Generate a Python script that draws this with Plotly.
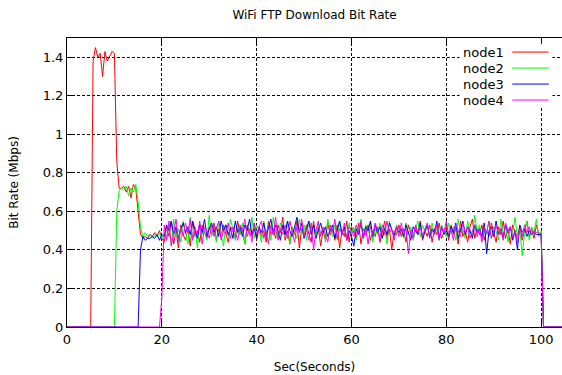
import plotly.graph_objects as go

# time grid (seconds), one sample every 0.5 s
t = [i * 0.5 for i in range(210)]

node1 = [
    0, 0, 0, 0, 0, 0, 0, 0, 0, 0, 0,
    1.38, 1.45, 1.40, 1.42, 1.30, 1.43, 1.38, 1.41, 1.43, 1.42,
    0.86, 0.72, 0.72, 0.73, 0.70, 0.73, 0.67, 0.74, 0.72, 0.60,
    0.48, 0.46, 0.47, 0.46, 0.48, 0.47, 0.49, 0.47, 0.50, 0.46,
    0.44, 0.52, 0.47, 0.55, 0.43, 0.50, 0.41, 0.53, 0.48, 0.45,
    0.51, 0.42, 0.55, 0.47, 0.50, 0.44, 0.53, 0.49, 0.46, 0.52,
    0.48, 0.54, 0.45, 0.51, 0.47, 0.53, 0.49, 0.44, 0.52, 0.50,
    0.46, 0.55, 0.48, 0.51, 0.43, 0.53, 0.49, 0.47, 0.54, 0.45,
    0.52, 0.47, 0.50, 0.44, 0.55, 0.48, 0.51, 0.46, 0.53, 0.49,
    0.57, 0.45, 0.50, 0.43, 0.52, 0.48, 0.55, 0.41, 0.51, 0.47,
    0.53, 0.49, 0.44, 0.55, 0.47, 0.52, 0.42, 0.50, 0.46, 0.54,
    0.48, 0.51, 0.45, 0.53, 0.41, 0.50, 0.47, 0.55, 0.44, 0.52,
    0.49, 0.46, 0.54, 0.43, 0.51, 0.48, 0.53, 0.45, 0.50, 0.47,
    0.52, 0.44, 0.49, 0.55, 0.46, 0.51, 0.40, 0.50, 0.48, 0.53,
    0.47, 0.51, 0.44, 0.53, 0.49, 0.46, 0.52, 0.48, 0.55, 0.45,
    0.50, 0.47, 0.53, 0.44, 0.51, 0.48, 0.54, 0.46, 0.49, 0.52,
    0.45, 0.53, 0.48, 0.51, 0.43, 0.55, 0.47, 0.50, 0.44, 0.52,
    0.56, 0.46, 0.51, 0.48, 0.53, 0.45, 0.50, 0.47, 0.54, 0.49,
    0.44, 0.52, 0.48, 0.55, 0.46, 0.51, 0.43, 0.53, 0.49, 0.47,
    0.52, 0.45, 0.50, 0.55, 0.47, 0.51, 0.46, 0.53, 0.48, 0.49,
    0, 0, 0, 0, 0, 0, 0, 0, 0,
]

node2 = [
    0, 0, 0, 0, 0, 0, 0, 0, 0, 0,
    0, 0, 0, 0, 0, 0, 0, 0, 0, 0, 0,
    0.60, 0.71, 0.72, 0.71, 0.73, 0.68, 0.72, 0.70, 0.74, 0.65,
    0.52, 0.47, 0.49, 0.47, 0.48, 0.46, 0.48, 0.47, 0.49, 0.46,
    0.48, 0.45, 0.53, 0.42, 0.56, 0.47, 0.51, 0.44, 0.55, 0.49,
    0.43, 0.57, 0.46, 0.52, 0.41, 0.54, 0.48, 0.50, 0.45, 0.58,
    0.47, 0.51, 0.44, 0.55, 0.49, 0.42, 0.53, 0.47, 0.56, 0.50,
    0.45, 0.52, 0.48, 0.54, 0.43, 0.51, 0.47, 0.57, 0.46, 0.53,
    0.50, 0.44, 0.55, 0.48, 0.52, 0.45, 0.57, 0.49, 0.46, 0.54,
    0.51, 0.47, 0.55, 0.43, 0.52, 0.49, 0.46, 0.56, 0.48, 0.53,
    0.45, 0.55, 0.49, 0.52, 0.46, 0.54, 0.48, 0.51, 0.44, 0.56,
    0.50, 0.47, 0.53, 0.45, 0.55, 0.49, 0.52, 0.46, 0.54, 0.48,
    0.52, 0.45, 0.50, 0.56, 0.47, 0.53, 0.49, 0.55, 0.44, 0.51,
    0.48, 0.54, 0.46, 0.52, 0.43, 0.55, 0.50, 0.47, 0.53, 0.49,
    0.51, 0.46, 0.54, 0.48, 0.52, 0.45, 0.50, 0.55, 0.47, 0.53,
    0.49, 0.52, 0.46, 0.54, 0.48, 0.51, 0.45, 0.53, 0.50, 0.47,
    0.54, 0.48, 0.52, 0.45, 0.56, 0.49, 0.51, 0.46, 0.55, 0.50,
    0.47, 0.58, 0.49, 0.53, 0.45, 0.51, 0.48, 0.55, 0.46, 0.52,
    0.50, 0.45, 0.56, 0.48, 0.53, 0.44, 0.52, 0.49, 0.57, 0.46,
    0.51, 0.37, 0.48, 0.55, 0.45, 0.52, 0.49, 0.56, 0.47, 0.50,
    0, 0, 0, 0, 0, 0, 0, 0, 0,
]

node3 = [
    0, 0, 0, 0, 0, 0, 0, 0, 0, 0,
    0, 0, 0, 0, 0, 0, 0, 0, 0, 0,
    0, 0, 0, 0, 0, 0, 0, 0, 0, 0, 0,
    0.40, 0.47, 0.45, 0.46, 0.46, 0.47, 0.46, 0.48, 0.45, 0.48,
    0.47, 0.53, 0.50, 0.55, 0.48, 0.52, 0.46, 0.51, 0.54, 0.49,
    0.52, 0.48, 0.55, 0.50, 0.46, 0.53, 0.49, 0.56, 0.47, 0.51,
    0.54, 0.49, 0.52, 0.47, 0.55, 0.50, 0.53, 0.48, 0.51, 0.46,
    0.55, 0.49, 0.52, 0.47, 0.53, 0.50, 0.56, 0.48, 0.51, 0.46,
    0.52, 0.49, 0.54, 0.47, 0.51, 0.56, 0.48, 0.53, 0.50, 0.45,
    0.53, 0.48, 0.55, 0.50, 0.47, 0.52, 0.57, 0.49, 0.54, 0.46,
    0.51, 0.55, 0.48, 0.53, 0.46, 0.50, 0.54, 0.49, 0.52, 0.47,
    0.50, 0.53, 0.46, 0.51, 0.55, 0.48, 0.52, 0.45, 0.50, 0.47,
    0.42, 0.51, 0.48, 0.54, 0.46, 0.52, 0.50, 0.55, 0.47, 0.53,
    0.49, 0.52, 0.46, 0.51, 0.48, 0.54, 0.50, 0.47, 0.52, 0.49,
    0.51, 0.47, 0.53, 0.49, 0.45, 0.52, 0.50, 0.48, 0.54, 0.46,
    0.50, 0.53, 0.47, 0.51, 0.49, 0.55, 0.46, 0.52, 0.48, 0.50,
    0.47, 0.52, 0.49, 0.54, 0.46, 0.51, 0.55, 0.48, 0.52, 0.50,
    0.46, 0.53, 0.49, 0.51, 0.47, 0.54, 0.38, 0.50, 0.52, 0.47,
    0.55, 0.48, 0.51, 0.46, 0.53, 0.49, 0.52, 0.45, 0.50, 0.40,
    0.53, 0.49, 0.51, 0.47, 0.50, 0.48, 0.49, 0.48, 0.48, 0.48,
    0, 0, 0, 0, 0, 0, 0, 0, 0,
]

node4 = [
    0, 0, 0, 0, 0, 0, 0, 0, 0, 0,
    0, 0, 0, 0, 0, 0, 0, 0, 0, 0,
    0, 0, 0, 0, 0, 0, 0, 0, 0, 0,
    0, 0, 0, 0, 0, 0, 0, 0, 0, 0,
    0.15,
    0.53, 0.45, 0.55, 0.42, 0.50, 0.56, 0.44, 0.52, 0.47, 0.54,
    0.49, 0.56, 0.45, 0.51, 0.48, 0.55, 0.43, 0.52, 0.50, 0.46,
    0.53, 0.47, 0.51, 0.55, 0.45, 0.50, 0.48, 0.54, 0.46, 0.52,
    0.49, 0.45, 0.53, 0.50, 0.56, 0.47, 0.51, 0.44, 0.54, 0.48,
    0.52, 0.55, 0.46, 0.50, 0.43, 0.53, 0.48, 0.57, 0.45, 0.51,
    0.48, 0.53, 0.46, 0.55, 0.50, 0.44, 0.52, 0.49, 0.56, 0.47,
    0.51, 0.45, 0.54, 0.40, 0.50, 0.55, 0.47, 0.52, 0.48, 0.44,
    0.53, 0.49, 0.56, 0.46, 0.51, 0.48, 0.54, 0.45, 0.52, 0.50,
    0.47, 0.53, 0.49, 0.55, 0.46, 0.51, 0.43, 0.52, 0.48, 0.54,
    0.50, 0.46, 0.53, 0.48, 0.55, 0.49, 0.51, 0.45, 0.52, 0.47,
    0.54, 0.48, 0.51, 0.38, 0.50, 0.46, 0.53, 0.49, 0.52, 0.47,
    0.51, 0.54, 0.46, 0.50, 0.48, 0.53, 0.45, 0.52, 0.49, 0.55,
    0.48, 0.51, 0.45, 0.53, 0.50, 0.47, 0.54, 0.49, 0.52, 0.46,
    0.50, 0.53, 0.47, 0.51, 0.44, 0.52, 0.49, 0.55, 0.46, 0.50,
    0.53, 0.48, 0.51, 0.45, 0.54, 0.49, 0.52, 0.47, 0.50, 0.44,
    0.51, 0.47, 0.53, 0.49, 0.52, 0.48, 0.50, 0.49, 0.49, 0.48,
    0, 0, 0, 0, 0, 0, 0, 0, 0,
]

names = ["node1", "node2", "node3", "node4"]
colors = ["#ff0000", "#00ff00", "#0000ff", "#ff00ff"]
series = [node1, node2, node3, node4]
for s in series:
    assert len(s) == len(t), len(s)

x_ticks = [0, 20, 40, 60, 80, 100]
y_ticks = [0, 0.2, 0.4, 0.6, 0.8, 1, 1.2, 1.4]

FONT = "DejaVu Sans"

fig = go.Figure()
for name, col, s in zip(names, colors, series):
    fig.add_trace(go.Scatter(x=t, y=s, mode="lines", name=name,
                             line=dict(color=col, width=1), showlegend=False))

# key box (gnuplot style: text then sample line)
key_y = [1.427, 1.344, 1.261, 1.178]
shapes = [dict(type="rect", xref="x", yref="y", x0=82.8, x1=102.4, y0=1.14, y1=1.47,
               fillcolor="white", line=dict(width=0), layer="above")]
annotations = []
for name, col, ky in zip(names, colors, key_y):
    shapes.append(dict(type="line", xref="x", yref="y", x0=93.9, x1=101.6, y0=ky, y1=ky,
                       line=dict(color=col, width=1), layer="above"))
    annotations.append(dict(x=92.6, y=ky, xref="x", yref="y", text=name, showarrow=False,
                            xanchor="right", yanchor="middle",
                            font=dict(family=FONT, size=13, color="black")))

axis_common = dict(showline=True, linecolor="black", linewidth=1,
                   ticks="inside", ticklen=7, tickcolor="black",
                   showgrid=True, gridcolor="black", gridwidth=1, griddash="3px,2px",
                   zeroline=False, tickfont=dict(family=FONT, size=13, color="black"))

fig.update_layout(
    width=562, height=375,
    margin=dict(l=67, r=0, t=38, b=48),
    paper_bgcolor="white", plot_bgcolor="white",
    title=dict(text="WiFi FTP Download Bit Rate", x=(67 + 562) / 2 / 562, xanchor="center",
               y=1 - 15 / 375, yanchor="middle",
               font=dict(family=FONT, size=12, color="black")),
    xaxis=dict(range=[0, 104.4], tickvals=x_ticks, mirror="ticks",
               title=dict(text="Sec(Seconds)", standoff=17,
                          font=dict(family=FONT, size=12, color="black")),
               **axis_common),
    yaxis=dict(range=[0, 1.5], tickvals=y_ticks, mirror=False,
               title=dict(text="Bit Rate (Mbps)", standoff=21,
                          font=dict(family=FONT, size=12, color="black")),
               **axis_common),
    yaxis2=dict(range=[0, 1.5], tickvals=y_ticks, overlaying="y", side="right", anchor="x",
                ticks="inside", ticklen=7, tickcolor="black", showline=False,
                showgrid=False, zeroline=False, showticklabels=False),
    shapes=shapes,
    annotations=annotations,
)

fig.write_html("out.html")
